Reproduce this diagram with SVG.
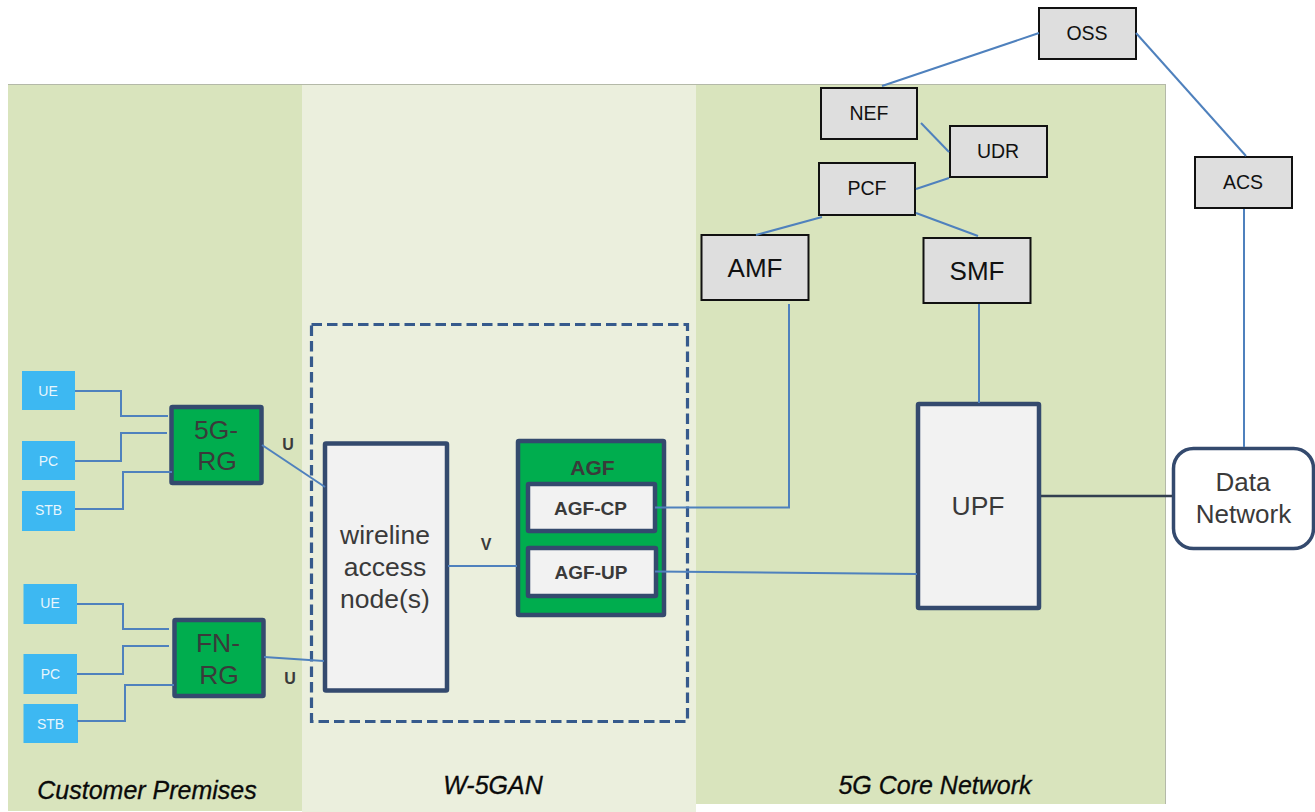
<svg xmlns="http://www.w3.org/2000/svg" width="1315" height="812" viewBox="0 0 1315 812">
<style>
text{font-family:"Liberation Sans",Arial,sans-serif;text-anchor:middle}
.reg{stroke:none}
.dev{fill:#3db8f2}
.dev+text{fill:#e8f6fd;font-size:14px}
.gray{fill:#dedede;stroke:#111;stroke-width:2}
.sm{font-size:19.500px;fill:#111}
.lg{font-size:26px;fill:#111}
.green{fill:#00ad4e;stroke:#344a6e;stroke-width:4.500}
.white{fill:#f2f2f2;stroke:#344a6e;stroke-width:4.500}
.rg{font-size:26.500px;fill:#3a3a3a}
.agf{font-size:19px;font-weight:bold;fill:#3a3a3a}
.if{font-size:16px;font-weight:bold;fill:#3a3a3a}
.zone{font-size:25px;font-style:italic;fill:#0a0a0a;stroke:#0a0a0a;stroke-width:.3}
.conn path{fill:none;stroke:#4f81bd;stroke-width:2}
</style>
<rect width="1315" height="812" fill="#fff"/>
<g id="zones">
<rect id="w5gan-zone" class="reg" x="302" y="84" width="394" height="728" fill="#ebefdd"/>
<rect id="customer-zone" class="reg" x="8" y="84" width="294" height="727" fill="#d9e4bd"/>
<rect id="core-zone" class="reg" x="696" y="84" width="470" height="720" fill="#d9e4bd"/>
<path d="M8 84.500H1166M1165.500 84V804" fill="none" stroke="#b4b9a8" stroke-width="1"/>
</g>
<rect id="w5gan-boundary" x="311.500" y="324.500" width="376" height="397" fill="none" stroke="#365a8c" stroke-width="3.200" stroke-dasharray="10.500 5"/>
<g id="ue1"><rect class="dev" x="22" y="371" width="53" height="39"/><text x="48" y="396">UE</text></g>
<g id="pc1"><rect class="dev" x="22" y="441" width="53" height="39"/><text x="48.500" y="466">PC</text></g>
<g id="stb1"><rect class="dev" x="22" y="491" width="53" height="40"/><text x="48.500" y="515">STB</text></g>
<g id="ue2"><rect class="dev" x="23.500" y="584" width="53.500" height="40"/><text x="50" y="608">UE</text></g>
<g id="pc2"><rect class="dev" x="23.500" y="654" width="53.500" height="40"/><text x="50.500" y="679">PC</text></g>
<g id="stb2"><rect class="dev" x="23.500" y="704" width="54.500" height="39"/><text x="50.500" y="729">STB</text></g>
<g id="rg5g"><rect class="green" x="171.500" y="407" width="90" height="76" rx="1"/><text class="rg" x="216" y="439">5G-</text><text class="rg" x="217" y="470">RG</text></g>
<g id="fnrg"><rect class="green" x="174.500" y="620" width="89" height="76" rx="1"/><text class="rg" x="218" y="652">FN-</text><text class="rg" x="219" y="684">RG</text></g>
<g id="wireline"><rect class="white" x="325" y="443.500" width="122" height="247" rx="1"/><text class="rg" x="385" y="544">wireline</text><text class="rg" x="385" y="576">access</text><text class="rg" x="385" y="608">node(s)</text></g>
<g id="agf"><rect class="green" x="518" y="441" width="146" height="174" rx="1"/><text class="agf" style="font-size:21px" x="592.500" y="474.500">AGF</text></g>
<g id="agf-cp"><rect class="white" x="528" y="484" width="127" height="47" rx="1"/><text class="agf" x="590.500" y="515">AGF-CP</text></g>
<g id="agf-up"><rect class="white" x="528" y="548" width="128" height="48" rx="1"/><text class="agf" x="591" y="579">AGF-UP</text></g>
<g id="upf"><rect class="white" x="918" y="404" width="121" height="204" rx="1"/><text class="rg" x="978" y="515">UPF</text></g>
<g id="data-network"><rect x="1173.500" y="448.500" width="140" height="100" rx="20" fill="#fff" stroke="#344a6e" stroke-width="3.500"/><text x="1243" y="491" font-size="26" fill="#3a3a3a">Data</text><text x="1243.500" y="523" font-size="26" fill="#3a3a3a">Network</text></g>
<g id="oss"><rect class="gray" x="1039" y="8" width="97" height="51"/><text class="sm" x="1087" y="40">OSS</text></g>
<g id="nef"><rect class="gray" x="821" y="88" width="96" height="51"/><text class="sm" x="869" y="120">NEF</text></g>
<g id="udr"><rect class="gray" x="950" y="126" width="97" height="51"/><text class="sm" x="998" y="158">UDR</text></g>
<g id="pcf"><rect class="gray" x="819" y="163" width="96" height="52"/><text class="sm" x="867" y="195">PCF</text></g>
<g id="amf"><rect class="gray" x="701.500" y="235" width="107" height="65"/><text class="lg" x="755" y="277">AMF</text></g>
<g id="smf"><rect class="gray" x="923.500" y="238" width="107" height="65"/><text class="lg" x="977" y="280">SMF</text></g>
<g id="acs"><rect class="gray" x="1195" y="157" width="97" height="51"/><text class="sm" x="1243" y="189">ACS</text></g>
<g id="connectors" class="conn">
<path d="M75 391H121V416H168"/>
<path d="M75 461H121V433H167"/>
<path d="M75 509H123V472H172"/>
<path d="M77 604H123V629H169"/>
<path d="M77 674H123V646H169"/>
<path d="M77 721H125V685H174"/>
<path d="M262 445L325 487"/>
<path d="M264 657L324 661"/>
<path d="M448 566H517"/>
<path d="M655 507.500H789V304"/>
<path d="M655 571.500L917 574"/>
<path d="M979 304V403"/>
<path d="M1041 496H1172" style="stroke:#333f50;stroke-width:2.500"/>
<path d="M1244 209V447"/>
<path d="M1039 33L882 86"/>
<path d="M1136 33L1246 156"/>
<path d="M921 123L949 152"/>
<path d="M949 178L916 189"/>
<path d="M822 217L756 235"/>
<path d="M916 213L978 236"/>
</g>
<text class="if" x="288" y="450">U</text>
<text class="if" x="290" y="684">U</text>
<text class="if" x="486" y="550">V</text>
<text class="zone" x="147" y="799">Customer Premises</text>
<text class="zone" x="493" y="794">W-5GAN</text>
<text class="zone" x="935" y="794">5G Core Network</text>
</svg>
